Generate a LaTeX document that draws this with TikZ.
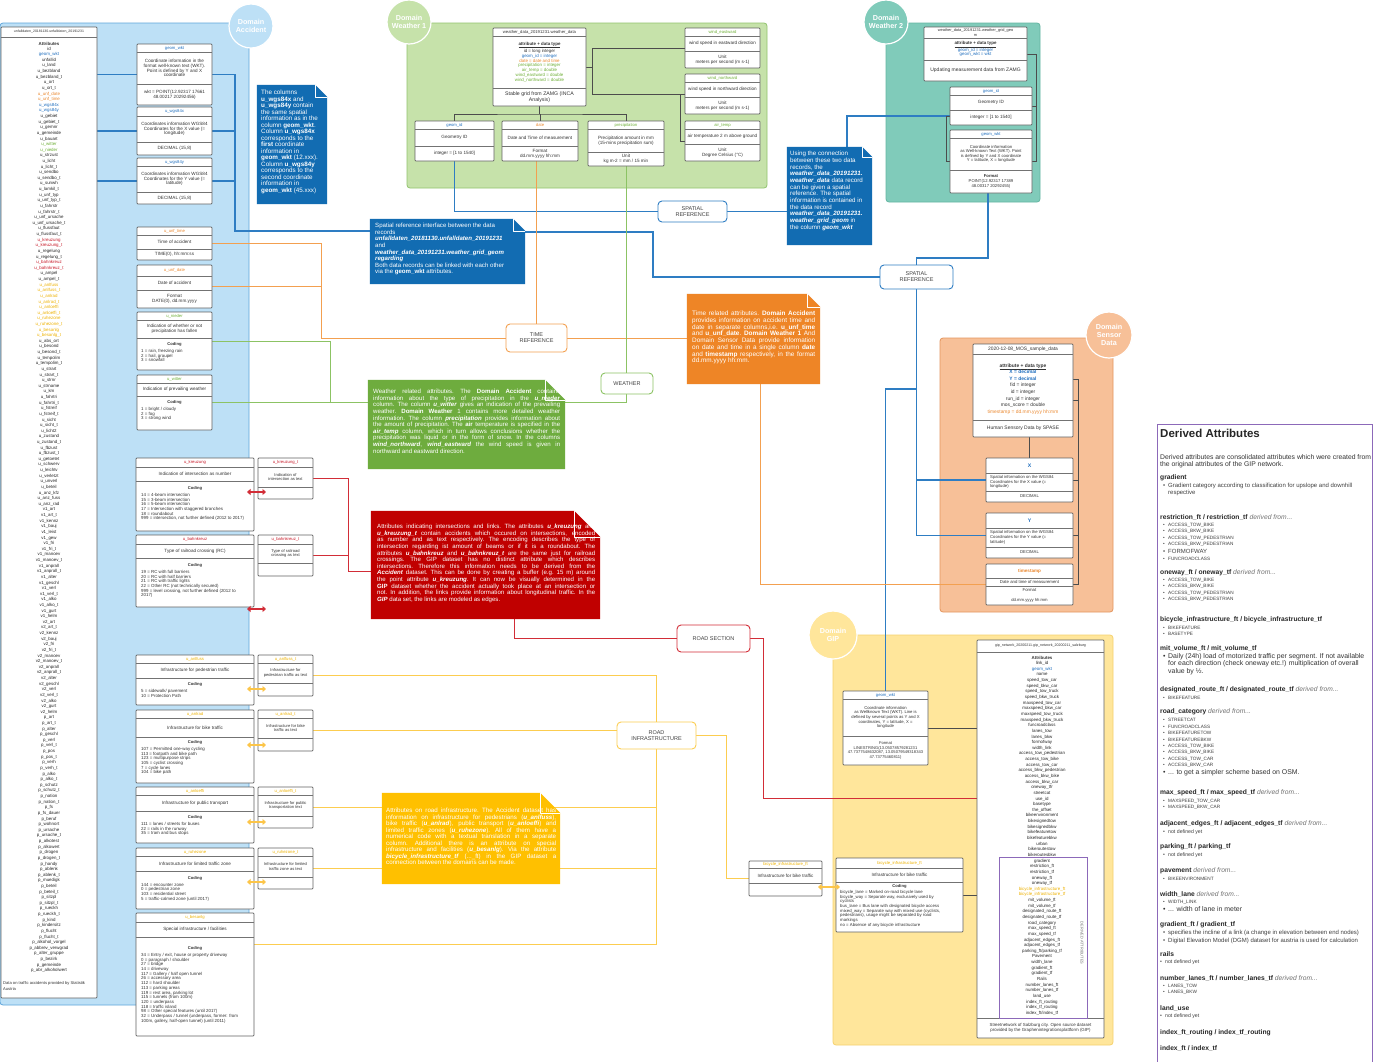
\documentclass[tikz,border=0pt]{standalone}
\usepackage{fontspec}
\setmainfont{Liberation Sans}
\usetikzlibrary{arrows.meta}
\pgfdeclarelayer{bg}
\pgfdeclarelayer{ln}
\pgfsetlayers{bg,ln,main}
\definecolor{accbg}{RGB}{189,224,246}
\definecolor{accbd}{RGB}{95,165,218}
\definecolor{w1bg}{RGB}{198,226,170}
\definecolor{w1bd}{RGB}{145,195,110}
\definecolor{w2bg}{RGB}{128,203,186}
\definecolor{w2bd}{RGB}{100,182,162}
\definecolor{sebg}{RGB}{247,192,152}
\definecolor{sebd}{RGB}{228,150,95}
\definecolor{gpbg}{RGB}{255,230,155}
\definecolor{gpbd}{RGB}{246,210,110}
\definecolor{tblue}{RGB}{31,110,190}
\definecolor{torange}{RGB}{235,135,45}
\definecolor{tgreen}{RGB}{110,175,55}
\definecolor{tred}{RGB}{200,25,40}
\definecolor{tyellow}{RGB}{238,178,0}
\definecolor{lblue}{RGB}{46,125,195}
\definecolor{lorange}{RGB}{243,160,80}
\definecolor{lgreen}{RGB}{140,195,100}
\definecolor{lred}{RGB}{210,45,55}
\definecolor{lyellow}{RGB}{252,205,80}
\definecolor{purp}{RGB}{140,105,185}
\definecolor{nblue}{RGB}{18,108,178}
\definecolor{norange}{RGB}{238,133,38}
\definecolor{ngreen}{RGB}{110,172,62}
\definecolor{nred}{RGB}{192,0,0}
\definecolor{nyellow}{RGB}{255,192,0}
\newcommand{\fs}[2]{\fontsize{#1}{#2}\selectfont}
\newcommand{\fj}[2]{\fontsize{#1}{#2}\selectfont\spaceskip=.27em plus 1em minus .13em\xspaceskip=.3em plus 1em minus .13em}
\newcount\ncnt
\newlength{\jw}
\newcommand{\J}[1]{\makebox[\jw][s]{#1}}
\newcommand{\Tx}[4][]{\global\advance\ncnt by 1\relax\edef\tname{t\the\ncnt}\node[txt,#1] (\tname) at (#2,#3) {#4};}
\newcommand{\Bx}[6][]{\node[tbox,#1,minimum width={#5-#3},minimum height={#6-#4}] (#2) at ({(#3+#5)/2},{(#4+#6)/2}) {};}
\newcommand{\Sp}[3]{\draw[sepl] (#1,#3) -- (#2,#3);}
\newcommand{\Nt}[7]{%
 \node[inner sep=0pt,minimum width={#5-#3},minimum height={#6-#4}] (#2) at ({(#3+#5)/2},{(#4+#6)/2}) {};
 \fill[#1] (#2.north west) -- ([xshift=-#7pt]#2.north east) -- ([yshift=-#7pt]#2.north east) -- (#2.south east) -- (#2.south west) -- cycle;
 \draw[white,line width=0.5pt,line join=round] ([xshift=-#7pt]#2.north east) -- ([xshift=-#7pt,yshift=-#7pt]#2.north east) -- ([yshift=-#7pt]#2.north east);}
\newcommand{\kB}{\color{tblue}}
\newcommand{\kO}{\color{torange}}
\newcommand{\kG}{\color{tgreen}}
\newcommand{\kR}{\color{tred}}
\newcommand{\kY}{\color{tyellow}}
\newcommand{\bul}{\makebox[5pt][l]{\textbullet}}
\newcommand{\dfr}{{\mdseries\itshape\color{black!55}derived from...}}
\begin{document}
\catcode`\_=12
\begin{tikzpicture}[x=1pt,y=-1pt,
  tbox/.style={draw=black!62,fill=white,line width=0.7pt,inner sep=0pt,rounded corners=0.8pt},
  region/.style={line width=0.8pt,rounded corners=3pt},
  txt/.style={inner sep=0pt,align=center,text=black!80,font=\fs{4.6}{4.8}},
  hd/.style={font=\fs{4.2}{4.6}},
  cod/.style={font=\bfseries\fs{4.1}{4.6}},
  cl/.style={anchor=north west,align=left,font=\fs{4.4}{4.7}},
  tsm/.style={font=\fs{4.1}{4.6}},
  sepl/.style={draw=black!55,line width=0.5pt},
  lst/.style={inner sep=0pt,text=black!85,font=\fs{4.4}{5},text height=3.2pt,text depth=1pt},
  dom/.style={circle,draw=white,line width=1.2pt,text=white,font=\bfseries\fs{7.2}{8},align=center,inner sep=0pt},
  lbl/.style={draw,fill=white,rounded corners=4pt,line width=0.9pt,align=center,inner sep=0pt,font=\fs{5.5}{6},text=black!75},
  ntx/.style={inner sep=0pt,text=white},
  lb/.style={draw=lblue,line width=1.1pt},
  lo/.style={draw=lorange,line width=0.8pt},
  lg/.style={draw=lgreen,line width=0.8pt},
  lr/.style={draw=lred,line width=0.9pt},
  ly/.style={draw=lyellow,line width=0.9pt},
  ld/.style={draw=black!70,line width=0.7pt},
  da/.style={line width=2.4pt,>={Triangle[length=3.5pt,width=6pt]},<->},
  dtitle/.style={anchor=west,align=left,font=\bfseries\fs{11.5}{12},text=black!85},
  dtx/.style={anchor=west,align=left,font=\fs{6.8}{8},text=black!80},
  dhd/.style={anchor=west,align=left,font=\bfseries\fs{6.7}{8},text=black!85},
  dit/.style={anchor=west,align=left,font=\fs{4.7}{6},text=black!75},
  dit2/.style={anchor=west,align=left,font=\fs{6.9}{8},text=black!80},
  dit3/.style={anchor=west,align=left,font=\fs{6.0}{7},text=black!75},
  dit4/.style={anchor=west,align=left,font=\fs{5.2}{6},text=black!75},
]
\useasboundingbox (0,0) rectangle (1384,1061);
\begin{pgfonlayer}{bg}
\fill[white] (0,0) rectangle (1384,1061);
\Bx[region,fill=accbg,draw=accbd]{racc}{0}{23}{249}{1005}
\Bx[region,fill=w1bg,draw=w1bd]{rw1}{407}{23}{767}{188}
\Bx[region,fill=w2bg,draw=w2bd]{rw2}{886}{23}{1040}{202}
\Bx[region,fill=sebg,draw=sebd]{rsen}{940}{338}{1113}{612}
\Bx[region,fill=gpbg,draw=gpbd]{rgip}{833}{635}{1113}{1045}
\end{pgfonlayer}

% domain circles
\node[dom,fill=accbg,minimum size=44pt] (cacc) at (251,26) {Domain\\Accident};
\node[dom,fill=w1bg,minimum size=44pt] (cw1) at (409,22) {Domain\\Weather 1};
\node[dom,fill=w2bg,minimum size=44pt] (cw2) at (886,22) {Domain\\Weather 2};
\node[dom,fill=sebg,minimum size=46pt] (csen) at (1109,335) {Domain\\Sensor\\Data};
\node[dom,fill=gpbg,minimum size=48pt] (cgip) at (833,635) {Domain\\GIP};

% ---------- Accident attribute list
\Bx{alist}{1}{27}{97}{998}\Sp{1}{97}{37}
\Tx[font=\fs{3.5}{4}]{49}{32}{unfalldaten_20181130.unfalldaten_20191231}
\Tx[font=\bfseries\fs{4.4}{5}]{49}{43.5}{Attributes}
\foreach \nm [count=\i] in {id,{\kB geom_wkt},unfallid,u_land,u_bezbland,u_bezbland_t,u_ort,u_ort_t,{\kO u_unf_date},{\kO u_unf_time},{\kB u_wgs84x},{\kB u_wgs84y},u_gebiet,u_gebiet_t,u_gemnr,u_gemeinde,u_bauart,{\kG u_witter},{\kG u_nieder},u_strzust,u_licht,u_licht_t,u_sendbo,u_sendbo_t,u_sunwh,u_lamkil_t,u_unf_typ,u_unf_typ_t,u_fahrstr,u_fahrstr_t,u_unf_ursache,u_unf_ursache_t,u_flussfaut,u_flussfaut_t,{\kR u_kreuzung},{\kR u_kreuzung_t},u_regelung,u_regelung_t,{\kR u_bahnkreuz},{\kR u_bahnkreuz_t},u_ampel,u_ampel_t,{\kY u_anlfuss},{\kY u_anlfuss_t},{\kY u_anlrad},{\kY u_anlrad_t},{\kY u_anloeffi},{\kY u_anloeffi_t},{\kY u_ruhezone},{\kY u_ruhezone_t},{\kY u_besanlg},{\kY u_besanlg_t},u_abs_ort,u_besond,u_besond_t,u_tempolim,u_tempolim_t,u_strart,u_strart_t,u_strnr,u_strname,u_km,u_fahrtri,u_fahrtri_t,u_fstreif,u_fstreif_t,u_sicht,u_sicht_t,u_licht2,u_zustand,u_zustand_t,u_fbzust,u_fbzust_t,u_getoetet,u_schwerv,u_leichtv,u_verletzt,u_unverl,u_beteil,u_anz_kfz,u_anz_fuss,u_anz_rad,v1_art,v1_art_t,v1_kennz,v1_bauj,v1_leist,v1_gew,v1_fri,v1_fri_t,v1_manoev,v1_manoev_t,v1_anprall,v1_anprall_t,v1_alter,v1_geschl,v1_verl,v1_verl_t,v1_alko,v1_alko_t,v1_gurt,v1_helm,v2_art,v2_art_t,v2_kennz,v2_bauj,v2_fri,v2_fri_t,v2_manoev,v2_manoev_t,v2_anprall,v2_anprall_t,v2_alter,v2_geschl,v2_verl,v2_verl_t,v2_alko,v2_gurt,v2_helm,p_art,p_art_t,p_alter,p_geschl,p_verl,p_verl_t,p_pos,p_pos_t,p_verh,p_verh_t,p_alko,p_alko_t,p_schutz,p_schutz_t,p_nation,p_nation_t,p_fs,p_fs_dauer,p_beruf,p_wohnort,p_ursache,p_ursache_t,p_alkotest,p_alkowert,p_drogen,p_drogen_t,p_handy,p_ablenk,p_ablenk_t,p_muedigk,p_beteil,p_beteil_t,p_sitzpl,p_sitzpl_t,p_rueckh,p_rueckh_t,p_kind,p_kindersitz,p_flucht,p_flucht_t,p_alkohol_vorgel,p_abbrev_verwgrad,p_alter_gruppe,p_bezirk,p_gemeinde,p_abr_alkoholwert}
  \node[lst] (al\i) at (49,{43.38+\i*5.62}) {\nm};
\Tx[anchor=north west,align=left,font=\fs{4.1}{6.5}]{3}{981}{Data on traffic accidents provided by Statistik\\Austria}

% ---------- Accident middle column
\Bx{gwkt}{137}{44}{212}{105}\Sp{137}{212}{52}\Sp{137}{212}{84}
\Tx[hd,text=tblue]{174.5}{48}{geom_wkt}
\Tx{174.5}{68}{Coordinate information in the\\format well-known text (WKT).\\Point is defined by Y and X\\coordinate}
\Tx{174.5}{94.5}{wkt = POINT(12.92317 17661\\48.00217 20292456)}

\Bx{wgsx}{137}{107}{212}{155}\Sp{137}{212}{116}\Sp{137}{212}{142}
\Tx[hd,text=tblue]{174.5}{111.5}{u_wgs84x}
\Tx{174.5}{129}{Coordinates information WGS84\\Coordinates for the X value (=\\longitude)}
\Tx{174.5}{148.5}{DECIMAL (15,8)}

\Bx{wgsy}{137}{158}{212}{204}\Sp{137}{212}{166}\Sp{137}{212}{192}
\Tx[hd,text=tblue]{174.5}{162}{u_wgs84y}
\Tx{174.5}{179}{Coordinates information WGS84\\Coordinates for the Y value (=\\latitude)}
\Tx{174.5}{198}{DECIMAL (15,8)}

\Bx{utime}{137}{227}{212}{260}\Sp{137}{212}{235}\Sp{137}{212}{249}
\Tx[hd,text=torange]{174.5}{231}{u_unf_time}
\Tx{174.5}{242}{Time of accident}
\Tx{174.5}{254.5}{TIME(0), hh:mm:ss}

\Bx{udate}{137}{265}{212}{308}\Sp{137}{212}{276}\Sp{137}{212}{290}
\Tx[hd,text=torange]{174.5}{270.5}{u_unf_date}
\Tx{174.5}{283}{Date of accident}
\Tx{174.5}{299}{Format\\DATE(0), dd.mm.yyyy}

\Bx{unied}{137}{312}{212}{370}\Sp{137}{212}{320}\Sp{137}{212}{338}
\Tx[hd,text=tgreen]{174.5}{316}{u_nieder}
\Tx{174.5}{329}{Indication of whether or not\\precipitation has fallen}
\Tx[cod]{174.5}{344}{Coding}
\Tx[cl]{141}{349}{1 = rain, freezing rain\\2 = hail, graupel\\3 = snowfall}

\Bx{uwitt}{137}{375}{212}{430}\Sp{137}{212}{383}\Sp{137}{212}{396}
\Tx[hd,text=tgreen]{174.5}{379}{u_witter}
\Tx{174.5}{389.5}{Indication of prevailing weather}
\Tx[cod]{174.5}{402}{Coding}
\Tx[cl]{141}{407}{1 = bright / cloudy\\2 = fog\\3 = strong wind}

% ---------- Accident lower boxes
\Bx{kreuz}{136}{458}{254}{531}\Sp{136}{254}{467}\Sp{136}{254}{481}
\Tx[hd,text=tred]{195}{462.5}{u_kreuzung}
\Tx{195}{474}{Indication of intersection as number}
\Tx[cod]{195}{488}{Coding}
\Tx[cl]{141}{493}{14 = 4-beam intersection\\15 = 3-beam intersection\\16 = 5-beam intersection\\17 = Intersection with staggered branches\\18 = roundabout\\999 = intersection, not further defined (2012 to 2017)}
\Bx{kreuzt}{258}{458}{313}{499}\Sp{258}{313}{467}\Sp{258}{313}{487}
\Tx[hd,text=tred]{285.5}{462.5}{u_kreuzung_t}
\Tx[tsm]{285.5}{477}{Indication of\\intersection as text}

\Bx{bahn}{136}{535}{254}{607}\Sp{136}{254}{544}\Sp{136}{254}{558}
\Tx[hd,text=tred]{195}{539.5}{u_bahnkreuz}
\Tx{195}{551}{Type of railroad crossing (RC)}
\Tx[cod]{195}{565}{Coding}
\Tx[cl]{141}{570}{19 = RC with full barriers\\20 = RC with half barriers\\21 = RC with traffic lights\\22 = Other RC (not technically secured)\\999 = level crossing, not further defined (2012 to\\2017)}
\Bx{bahnt}{258}{535}{313}{576}\Sp{258}{313}{544}\Sp{258}{313}{563}
\Tx[hd,text=tred]{285.5}{539.5}{u_bahnkreuz_t}
\Tx[tsm]{285.5}{553.5}{Type of railroad\\crossing as text}

\Bx{fuss}{136}{655}{254}{705}\Sp{136}{254}{663}\Sp{136}{254}{678}
\Tx[hd,text=tyellow]{195}{659}{u_anlfuss}
\Tx{195}{670.5}{Infrastructure for pedestrian traffic}
\Tx[cod]{195}{684}{Coding}
\Tx[cl]{141}{689}{5 = sidewalk/ pavement\\10 = Protection Path}
\Bx{fusst}{258}{655}{313}{696}\Sp{258}{313}{663}\Sp{258}{313}{683}
\Tx[hd,text=tyellow]{285.5}{659}{u_anlfuss_t}
\Tx[tsm]{285.5}{673}{Infrastructure for\\pedestrian traffic as text}

\Bx{rad}{136}{710}{254}{783}\Sp{136}{254}{718}\Sp{136}{254}{737}
\Tx[hd,text=tyellow]{195}{714}{u_anlrad}
\Tx{195}{727.5}{Infrastructure for bike traffic}
\Tx[cod]{195}{742}{Coding}
\Tx[cl]{141}{747}{107 = Permitted one-way cycling\\113 = footpath and bike path\\123 = multipurpose strips\\105 = cyclist crossing\\7 = cycle lanes\\104 = bike path}
\Bx{radt}{258}{710}{313}{751}\Sp{258}{313}{718}\Sp{258}{313}{738}
\Tx[hd,text=tyellow]{285.5}{714}{u_anlrad_t}
\Tx[tsm]{285.5}{728}{Infrastructure for bike\\traffic as text}

\Bx{oeffi}{136}{787}{254}{843}\Sp{136}{254}{795}\Sp{136}{254}{811}
\Tx[hd,text=tyellow]{195}{791}{u_anloeffi}
\Tx{195}{803}{Infrastructure for public transport}
\Tx[cod]{195}{817}{Coding}
\Tx[cl]{141}{822}{111 = lanes / streets for buses\\22 = rails in the runway\\35 = tram and bus stops}
\Bx{oeffit}{258}{787}{313}{828}\Sp{258}{313}{795}\Sp{258}{313}{816}
\Tx[hd,text=tyellow]{285.5}{791}{u_anloeffi_t}
\Tx[tsm]{285.5}{805.5}{Infrastructure for public\\transportation text}

\Bx{ruhe}{136}{848}{254}{909}\Sp{136}{254}{856}\Sp{136}{254}{871}
\Tx[hd,text=tyellow]{195}{852}{u_ruhezone}
\Tx{195}{863.5}{Infrastructure for limited traffic zone}
\Tx[cod]{195}{878}{Coding}
\Tx[cl]{141}{883}{144 = encounter zone\\0 = pedestrian zone\\103 = residential street\\5 = traffic-calmed zone (until 2017)}
\Bx{ruhet}{258}{848}{313}{889}\Sp{258}{313}{856}\Sp{258}{313}{877}
\Tx[hd,text=tyellow]{285.5}{852}{u_ruhezone_t}
\Tx[tsm]{285.5}{866.5}{Infrastructure for limited\\traffic zone as text}

\Bx{besan}{136}{913}{254}{1036}\Sp{136}{254}{922}\Sp{136}{254}{937}
\Tx[hd,text=tyellow]{195}{917.5}{u_besanlg}
\Tx{195}{929.5}{Special infrastructure / facilities}
\Tx[cod]{195}{948}{Coding}
\Tx[cl]{141}{953}{34 = Entry / exit, house or property driveway\\0 = paragraph / shoulder\\27 = bridge\\14 = driveway\\117 = Gallery / half open tunnel\\26 = accessory area\\112 = hard shoulder\\113 = parking areas\\119 = rest area, parking lot\\115 = tunnels (from 100m)\\120 = underpass\\118 = traffic island\\98 = Other special features (until 2017)\\32 = Underpass / tunnel (underpass, former: from\\100m, gallery, half-open tunnel) (until 2011)}

% ---------- Weather 1
\Bx{wmain}{493}{28}{586}{106}\Sp{493}{586}{36}\Sp{493}{586}{88}
\Tx[hd]{539.5}{32}{weather_data_20191231.weather_data}
\Tx[font=\fs{4.4}{4.1}]{539.5}{62}{\underline{\textbf{attribute + data type}}\\id = long integer\\{\kB geom_id = integer}\\{\kO date = date and time}\\{\kG precipitation = integer}\\{\kG air_temp = double}\\{\kG wind_eastward = double}\\{\kG wind_northward = double}}
\Tx[font=\fs{5.2}{5.8}]{539.5}{97}{Stable grid from ZAMG (INCA\\Analysis)}
\Bx{wgid}{415}{121}{494}{161}\Sp{415}{494}{129}\Sp{415}{494}{146}
\Tx[hd,text=tblue]{454.5}{125}{geom_id}
\Tx{454.5}{137.5}{Geometry ID}
\Tx{454.5}{153.5}{integer = [1 to 1540]}
\Bx{wdate}{502}{121}{578}{161}\Sp{502}{578}{129}\Sp{502}{578}{146}
\Tx[hd,text=torange]{540}{125}{date}
\Tx{540}{137.5}{Date and Time of measurement}
\Tx{540}{153.5}{Format\\dd.mm.yyyy hh:mm}
\Bx{wprec}{588}{121}{664}{166}\Sp{588}{664}{129}\Sp{588}{664}{152}
\Tx[hd,text=tgreen]{626}{125}{precipitation}
\Tx{626}{140.5}{Precipitation amount in mm\\(15-mins precipitation sum)}
\Tx{626}{159}{Unit\\kg m-2 = mm / 15 min}
\Bx{weast}{685}{28}{760}{68}\Sp{685}{760}{36}\Sp{685}{760}{51}
\Tx[hd,text=tgreen]{722.5}{32}{wind_eastward}
\Tx{722.5}{43.5}{wind speed in eastward direction}
\Tx{722.5}{59.5}{Unit\\meters per second (m s-1)}
\Bx{wnorth}{685}{74}{760}{114}\Sp{685}{760}{82}\Sp{685}{760}{97}
\Tx[hd,text=tgreen]{722.5}{78}{wind_northward}
\Tx{722.5}{89.5}{wind speed in northward direction}
\Tx{722.5}{105.5}{Unit\\meters per second (m s-1)}
\Bx{wair}{685}{121}{760}{161}\Sp{685}{760}{129}\Sp{685}{760}{144}
\Tx[hd,text=tgreen]{722.5}{125}{air_temp}
\Tx{722.5}{136.5}{air temperature 2 m above ground}
\Tx{722.5}{152.5}{Unit\\Degree Celsius (°C)}

% ---------- Weather 2
\Bx{w2main}{924}{27}{1027}{81}\Sp{924}{1027}{38}\Sp{924}{1027}{60}
\Tx[font=\fs{3.9}{4.2}]{975.5}{32.5}{weather_data_20191231.weather_grid_geo\\m}
\Tx[font=\fs{4.4}{4.4}]{975.5}{49}{\underline{\textbf{attribute + data type}}\\{\kB geom_id = integer}\\{\kB geom_wkt = wkt}}
\Tx[font=\fs{5}{5}]{975.5}{70.5}{Updating measurement data from ZAMG}
\Bx{w2gid}{950}{87}{1032}{125}\Sp{950}{1032}{95}\Sp{950}{1032}{110}
\Tx[hd,text=tblue]{991}{91}{geom_id}
\Tx{991}{102.5}{Geometry ID}
\Tx{991}{117.5}{integer = [1 to 1540]}
\Bx{w2wkt}{950}{130}{1032}{193}\Sp{950}{1032}{138}\Sp{950}{1032}{170}
\Tx[hd,text=tblue]{991}{134}{geom_wkt}
\Tx[font=\fs{4.2}{4.6}]{991}{154}{Coordinate information\\as Well-known Text (WKT). Point\\is defined by Y and X coordinate\\Y = latitude, X = longitude}
\Tx[font=\fs{4.2}{4.6}]{991}{181.5}{\textbf{Format}\\POINT(12.92317 17389\\48.00317 20292455)}

% ---------- Sensor data
\Bx{smain}{973}{344}{1073}{437}\Sp{973}{1073}{354}\Sp{973}{1073}{420}
\Tx[font=\fs{4.9}{5}]{1023}{349}{2020-12-08_MOS_sample_data}
\Tx[font=\fs{4.9}{6.6}]{1023}{389}{\underline{\textbf{attribute + data type}}\\{\kB\textbf{X = decimal}}\\{\kB\textbf{Y = decimal}}\\fid = integer\\id = integer\\run_id = integer\\mos_score = double\\{\kO timestamp = dd.mm.yyyy hh:mm}}
\Tx[font=\fs{5}{5}]{1023}{428.5}{Human Sensory Data by SPASE}
\Bx{sx}{986}{458}{1073}{502}\Sp{986}{1073}{473}\Sp{986}{1073}{491}
\Tx[font=\bfseries\fs{5.2}{5},text=tblue]{1029.5}{465.5}{X}
\Tx[anchor=west,align=left,font=\fs{4.2}{4.7}]{990}{482}{Spatial information on the WGS84\\Coordinates for the X value (=\\longitude)}
\Tx[font=\fs{4.2}{4.5}]{1029.5}{496.5}{DECIMAL}
\Bx{sy}{986}{513}{1073}{558}\Sp{986}{1073}{528}\Sp{986}{1073}{547}
\Tx[font=\bfseries\fs{5.2}{5},text=tblue]{1029.5}{520.5}{Y}
\Tx[anchor=west,align=left,font=\fs{4.2}{4.7}]{990}{537.5}{Spatial information on the WGS84\\Coordinates for the Y value (=\\latitude)}
\Tx[font=\fs{4.2}{4.5}]{1029.5}{552.5}{DECIMAL}
\Bx{sts}{986}{564}{1073}{605}\Sp{986}{1073}{578}\Sp{986}{1073}{586}
\Tx[font=\bfseries\fs{4.6}{5},text=torange]{1029.5}{571}{timestamp}
\Tx[font=\fs{4.3}{4.5}]{1029.5}{582}{Date and time of measurement}
\Tx[font=\fs{4.3}{4.5}]{1029.5}{590.5}{Format}
\Tx[font=\fs{4.2}{4.5}]{1029.5}{600.5}{dd.mm.yyyy hh:mm}

% ---------- GIP
\Bx{giplist}{977}{640}{1104}{1038}\Sp{977}{1104}{652}\Sp{977}{1104}{1018}
\Bx[fill=none,draw=purp,line width=0.8pt,rounded corners=0pt]{gipder}{999}{857}{1087}{1018}
\Tx[font=\fs{3.6}{4}]{1040.5}{646}{gip_network_20200211.gip_network_20200211_salzburg}
\Tx[font=\bfseries\fs{4.4}{5}]{1042}{658}{Attributes}
\foreach \nm [count=\i] in {link_id,{\kB geom_wkt},name,speed_tow_car,speed_bkw_car,speed_tow_truck,speed_bkw_truck,maxspeed_tow_car,maxspeed_bkw_car,maxspeed_tow_truck,maxspeed_bkw_truck,funcroadclass,lanes_tow,lanes_bkw,formofway,width_link,access_tow_pedestrian,access_tow_bike,access_tow_car,access_bkw_pedestrian,access_bkw_bike,access_bkw_car,oneway_tfr,streetcat,use_id,basetype,the_offset,bikeenvironment,bikesignedtow,bikesignedbkw,bikefeaturetow,bikefeaturebkw,urban,bikeroutestow,bikeroutesbkw,gradient,restriction_ft,restriction_tf,oneway_ft,oneway_tf,{\kY bicycle_infrastructure_ft},{\kY bicycle_infrastructure_tf},mit_volume_ft,mit_volume_tf,designated_route_ft,designated_route_tf,road_category,max_speed_ft,max_speed_tf,adjacent_edges_ft,adjacent_edges_tf,parking_ft/parking_tf,Pavement,width_lane,gradient_ft,gradient_tf,Rails,number_lanes_ft,number_lanes_tf,land_use,index_ft_routing,index_tf_routing,index_ft/index_tf}
  \node[lst] (gl\i) at (1042,{657.96+\i*5.64}) {\nm};
\Tx[rotate=-90,font=\fs{3.9}{4},text=black!55]{1082}{943}{DERIVED ATTRIBUTES}
\Tx[font=\fs{4.4}{5.3}]{1040.5}{1028}{Streetnetwork of Salzburg city. Open source dataset\\provided by the Graphenintegrationsplattform (GIP)}
\Bx{gipwkt}{843}{691}{928}{765}\Sp{843}{928}{699}\Sp{843}{928}{736}
\Tx[hd,text=tblue]{885.5}{695}{geom_wkt}
\Tx[font=\fs{4.2}{4.6}]{885.5}{717.5}{Coordinate information\\as Wellknown Text (WKT). Line is\\defined by several points as Y and X\\coordinates, Y = latitude, X =\\longitude}
\Tx[font=\fs{4.1}{4.5}]{885.5}{750.5}{Format\\LINESTRING(13.05078579281231\\47.7377548632087, 13.05079549318343\\47.73775460811)}
\Bx{bike2}{836}{858}{963}{932}\Sp{836}{963}{868}\Sp{836}{963}{882}
\Tx[hd,text=tyellow]{899.5}{863}{bicycle_infrastructure_ft}
\Tx{899.5}{875}{Infrastructure for bike traffic}
\Tx[cod]{899.5}{886}{Coding}
\Tx[cl,font=\fs{4.3}{4.7}]{840}{890}{bicycle_lane = Marked on-road bicycle lane\\bicycle_way = Separate way, exclusively used by\\cyclists\\bus_lane = Bus lane with designated bicycle access\\mixed_way = Separate way with mixed use (cyclists,\\pedestrians), usage might be separated by road\\markings\\no = Absence of any bicycle infrastructure}
\Bx{bike1}{749}{861}{822}{896}\Sp{749}{822}{868}\Sp{749}{822}{883}
\Tx[hd,text=tyellow]{785.5}{864.5}{bicycle_infrastructure_ft}
\Tx{785.5}{875.5}{Infrastructure for bike traffic}

% ---------- notes
\Nt{nblue}{cnote}{257}{85}{327}{204}{12}
\Tx[ntx,align=left,anchor=north west,font=\fs{6.3}{6.5}]{261}{90}{The columns\\\textbf{u_wgs84x} and\\\textbf{u_wgs84y} contain\\the same spatial\\information as in the\\column \textbf{geom_wkt}.\\Column \textbf{u_wgs84x}\\corresponds to the\\\textbf{first} coordinate\\information in\\\textbf{geom_wkt} (12.xxx).\\Column \textbf{u_wgs84y}\\corresponds to the\\second coordinate\\information in\\\textbf{geom_wkt} (45.xxx)}
\Nt{nblue}{snote}{370}{219}{525}{284}{12}
\Tx[ntx,align=left,anchor=north west,font=\fs{6.1}{6.6}]{375}{223}{Spatial reference interface between the data\\records\\\textbf{\textit{unfalldaten_20181130.unfalldaten_20191231}}\\and\\\textbf{\textit{weather_data_20191231.weather_grid_geom}}\\\textbf{\textit{regarding}}\\Both data records can be linked with each other\\via the \textbf{geom_wkt} attributes.}
\Nt{nblue}{unote}{787}{147}{872}{245}{10}
\Tx[ntx,align=left,anchor=north west,font=\fs{6.2}{6.7}]{790}{151}{Using the connection\\between these two data\\records, the\\\textbf{\textit{weather_data_20191231.}}\\\textbf{\textit{weather_data}} data record\\can be given a spatial\\reference. The spatial\\information is contained in\\the data record\\\textbf{\textit{weather_data_20191231.}}\\\textbf{\textit{weather_grid_geom}} in\\the column \textbf{\textit{geom_wkt}}}
\Nt{norange}{onote}{687}{294}{820}{384}{13}
\setlength{\jw}{123pt}
\Tx[ntx,align=left,anchor=north west,font=\fj{6.4}{6.7}]{692}{311}{\J{Time related attributes. \textbf{Domain Accident}}\\\J{provides information on accident time and}\\\J{date in separate columns,i.e. \textbf{u_unf_time}}\\\J{and \textbf{u_unf_date}. \textbf{Domain Weather 1} And}\\\J{Domain Sensor Data provide information}\\\J{on date and time in a single column \textbf{date}}\\\J{and \textbf{timestamp} respectively, in the format}\\dd.mm.yyyy hh:mm.}
\Nt{ngreen}{gnote}{368}{380}{565}{469}{20}
\setlength{\jw}{187pt}
\Tx[ntx,align=left,anchor=north west,font=\fj{6.1}{6.6}]{373}{389}{\J{Weather related attributes. The \textbf{Domain Accident} contains}\\\J{information about the type of precipitation in the \textbf{\textit{u_nieder}}}\\\J{column. The column \textbf{\textit{u_witter}} gives an indication of the prevailing}\\\J{weather. \textbf{Domain Weather} 1 contains more detailed weather}\\\J{information. The column \textbf{\textit{precipitation}} provides information about}\\\J{the amount of precipitation. The \textbf{air} temperature is specified in the}\\\J{\textbf{\textit{air_temp}} column, which in turn allows conclusions whether the}\\\J{precipitation was liquid or in the form of snow. In the columns}\\\J{\textbf{\textit{wind_northward}}, \textbf{\textit{wind_eastward}} the wind speed is given in}\\northward and eastward direction.}
\Nt{nred}{rnote}{371}{511}{600}{619}{26}
\setlength{\jw}{218pt}
\Tx[ntx,align=left,anchor=north west,font=\fj{6.1}{6.6}]{377}{524}{\J{Attributes indicating intersections and links. The attributes \textbf{\textit{u_kreuzung}} and}\\\J{\textbf{\textit{u_kreuzung_t}} contain accidents which occured on intersections, encoded}\\\J{as number and as text respectively. The encoding describes the type of}\\\J{intersection regarding ist amount of beams or if it is a roundabout. The}\\\J{attributes \textbf{\textit{u_bahnkreuz}} and \textbf{\textit{u_bahnkreuz_t}} are the same just for railroad}\\\J{crossings. The GIP dataset has no distinct attribute which describes}\\\J{intersections. Therefore this information needs to be derived from the}\\\J{\textbf{\textit{Accident}} dataset. This can be done by creating a buffer (e.g. 15 m) around}\\\J{the point attribute \textbf{\textit{u_kreuzung}}. It can now be visually determined in the}\\\J{\textbf{GIP} dataset whether the accident actually took place at an intersection or}\\\J{not. In addition, the links provide information about longitudinal traffic. In the}\\\textbf{\textit{GIP}} data set, the links are modeled as edges.}
\Nt{nyellow}{ynote}{382}{793}{560}{884}{20}
\setlength{\jw}{170pt}
\Tx[ntx,align=left,anchor=north west,font=\fj{6.2}{6.5}]{386}{808}{\J{Attributes on road infrastructure. The Accident dataset has}\\\J{information on infrastructure for pedestrians (\textbf{\textit{u_anlfuss}}),}\\\J{bike traffic (\textbf{\textit{u_anlrad}}), public transport (\textbf{\textit{u_anloeffi}}) and}\\\J{limited traffic zones (\textbf{\textit{u_ruhezone}}). All of them have a}\\\J{numerical code with a textual translation in a separate}\\\J{column. Additional there is an attribute on special}\\\J{infrastructure and facilities (\textbf{\textit{u_besanlg}}). Via the attribute}\\\J{\textbf{\textit{bicycle_infrastructure_tf}} (..._ft) in the GIP dataset a}\\connection between the domains can be made.}

% ---------- relation labels
\node[lbl,draw=lblue,minimum width=69pt,minimum height=21pt] (sref1) at (692.5,211.5) {SPATIAL\\REFERENCE};
\node[lbl,draw=lblue,minimum width=73pt,minimum height=24pt] (sref2) at (916.5,277) {SPATIAL\\REFERENCE};
\node[lbl,draw=lorange,minimum width=61pt,minimum height=28pt] (tref) at (536.5,338) {TIME\\REFERENCE};
\node[lbl,draw=lgreen,minimum width=52pt,minimum height=21pt] (wlab) at (627,383.5) {WEATHER};
\node[lbl,draw=lred,minimum width=73pt,minimum height=27pt] (rsec) at (713.5,638.5) {ROAD SECTION};
\node[lbl,draw=lyellow,minimum width=79pt,minimum height=27pt] (rinf) at (656.5,735.5) {ROAD\\INFRASTRUCTURE};

% ---------- Derived attributes panel
\Bx[draw=purp,line width=1pt,rounded corners=0pt]{derbox}{1157}{424}{1372}{1064}
\Tx[dtitle]{1160}{433}{Derived Attributes}
\Tx[dtx]{1160}{457}{Derived attributes are consolidated attributes which were created from}
\Tx[dtx]{1160}{465}{the original attributes of the GIP network.}
\Tx[dhd]{1160}{478}{gradient}
\Tx[dit3]{1163}{486}{\bul Gradient category according to classification for upslope and downhill}
\Tx[dit3]{1168}{493}{respective}
\Tx[dhd]{1160}{517}{restriction_ft / restriction_tf \dfr}
\Tx[dit]{1163}{525}{\bul ACCESS_TOW_BIKE}
\Tx[dit]{1163}{531.5}{\bul ACCESS_BKW_BIKE}
\Tx[dit]{1163}{538}{\bul ACCESS_TOW_PEDESTRIAN}
\Tx[dit]{1163}{544.5}{\bul ACCESS_BKW_PEDESTRIAN}
\Tx[dit3]{1163}{551.5}{\bul FORMOFWAY}
\Tx[dit]{1163}{558.5}{\bul FUNCROADCLASS}
\Tx[dhd]{1160}{573}{oneway_ft / oneway_tf \dfr}
\Tx[dit]{1163}{580}{\bul ACCESS_TOW_BIKE}
\Tx[dit]{1163}{586.5}{\bul ACCESS_BKW_BIKE}
\Tx[dit]{1163}{593}{\bul ACCESS_TOW_PEDESTRIAN}
\Tx[dit]{1163}{599.5}{\bul ACCESS_BKW_PEDESTRIAN}
\Tx[dhd]{1160}{620}{bicycle_infrastructure_ft / bicycle_infrastructure_tf}
\Tx[dit]{1163}{627.5}{\bul BIKEFEATURE}
\Tx[dit]{1163}{634}{\bul BASETYPE}
\Tx[dhd]{1160}{648}{mit_volume_ft / mit_volume_tf}
\Tx[dit2]{1163}{656.5}{\bul Daily (24h) load of motorized traffic per segment. If not available}
\Tx[dit2]{1168}{664}{for each direction (check oneway etc.!) multiplication of overall}
\Tx[dit2]{1168}{671.5}{value by ½.}
\Tx[dhd]{1160}{690}{designated_route_ft / designated_route_tf \dfr}
\Tx[dit]{1163}{698}{\bul BIKEFEATURE}
\Tx[dhd]{1160}{712}{road_category \dfr}
\Tx[dit]{1163}{720}{\bul STREETCAT}
\Tx[dit]{1163}{726.5}{\bul FUNCROADCLASS}
\Tx[dit]{1163}{733}{\bul BIKEFEATURETOW}
\Tx[dit]{1163}{739.5}{\bul BIKEFEATUREBKW}
\Tx[dit]{1163}{746}{\bul ACCESS_TOW_BIKE}
\Tx[dit]{1163}{752.5}{\bul ACCESS_BKW_BIKE}
\Tx[dit]{1163}{759}{\bul ACCESS_TOW_CAR}
\Tx[dit]{1163}{765.5}{\bul ACCESS_BKW_CAR}
\Tx[dit2]{1163}{773}{\bul ... to get a simpler scheme based on OSM.}
\Tx[dhd]{1160}{793}{max_speed_ft / max_speed_tf \dfr}
\Tx[dit]{1163}{801}{\bul MAXSPEED_TOW_CAR}
\Tx[dit]{1163}{807.5}{\bul MAXSPEED_BKW_CAR}
\Tx[dhd]{1160}{824}{adjacent_edges_ft / adjacent_edges_tf \dfr}
\Tx[dit4]{1163}{832}{\bul not defined yet}
\Tx[dhd]{1160}{847}{parking_ft / parking_tf}
\Tx[dit4]{1163}{855}{\bul not defined yet}
\Tx[dhd]{1160}{871}{pavement \dfr}
\Tx[dit]{1163}{879}{\bul BIKEENVIRONMENT}
\Tx[dhd]{1160}{894}{width_lane \dfr}
\Tx[dit]{1163}{902}{\bul WIDTH_LINK}
\Tx[dit2]{1163}{909.5}{\bul ... width of lane in meter}
\Tx[dhd]{1160}{925}{gradient_ft / gradient_tf}
\Tx[dit3]{1163}{933}{\bul specifies the incline of a link (a change in elevation between end nodes)}
\Tx[dit3]{1163}{940.5}{\bul Digital Elevation Model (DGM) dataset for austria is used for calculation}
\Tx[dhd]{1160}{954}{rails}
\Tx[dit4]{1160}{962}{\bul not defined yet}
\Tx[dhd]{1160}{978}{number_lanes_ft / number_lanes_tf \dfr}
\Tx[dit]{1163}{986}{\bul LANES_TOW}
\Tx[dit]{1163}{992.5}{\bul LANES_BKW}
\Tx[dhd]{1160}{1008}{land_use}
\Tx[dit4]{1160}{1016}{\bul not defined yet}
\Tx[dhd]{1160}{1033}{index_ft_routing / index_tf_routing}
\Tx[dhd]{1160}{1048}{index_ft / index_tf}

% ---------- double arrows
\draw[da,draw=lred,fill=lred] (247,492) -- (266,492);
\draw[da,draw=lred,fill=lred] (247,609) -- (266,609);
\draw[da,draw=lyellow!90!orange,fill=lyellow!90!orange] (247,689) -- (266,689);
\draw[da,draw=lyellow!90!orange,fill=lyellow!90!orange] (247,745) -- (266,745);
\draw[da,draw=lyellow!90!orange,fill=lyellow!90!orange] (247,822) -- (266,822);
\draw[da,draw=lyellow!90!orange,fill=lyellow!90!orange] (247,882) -- (266,882);
\draw[da,draw=lyellow!90!orange,fill=lyellow!90!orange] (818,887) -- (840,887);

% ---------- connectors
\begin{pgfonlayer}{ln}
\draw[lb] (alist.east |- gwkt.west) -- (gwkt.west);
\draw[lb] (alist.east |- wgsx.west) -- (wgsx.west);
\draw[lb] (alist.east |- wgsy.west) -- (wgsy.west);
\draw[lb] (gwkt.east) -| (235,231) -- (snote.west |- 0,231);
\draw[lb] (wgsx.east) -- (235,131);
\draw[lb] (wgsy.east) -- (235,181);
\draw[lb] (snote.east |- 0,232) -| (653,277) -- (sref2.west);
\draw[lb] (wgid.south) |- (sref1.west);
\draw[lb] (sref1.east) -- (unote.west |- sref1.east);
\draw[lb] (unote.north -| 847,0) |- (w2gid.west |- 0,116);
\draw[lb] (w2wkt.south -| 988,0) |- (916.5,258) -- (sref2.north);
\draw[lb] (sref2.south) |- (sy.west);
\draw[lb] (916.5,480) -- (sx.west);
\draw[lb] (916.5,389) -| (gipwkt.north);
\draw[lo] (utime.east) -| (321,338) -- (tref.west);
\draw[lo] (udate.east) -- (321,286.5);
\draw[lo] (tref.north) -- (tref.north |- wdate.south);
\draw[lo] (tref.east) -- (onote.west |- tref.east);
\draw[lo] (onote.south -| 760,0) |- (sts.west);
\draw[lg] (unied.east) -| (330,402.5);
\draw[lg] (uwitt.east) -- (gnote.west |- uwitt.east);
\draw[lg] (wprec.south) |- (gnote.east |- uwitt.east);
\draw[lr] (kreuzt.east) -| (348,571) -- (rnote.west |- 0,571);
\draw[lr] (bahnt.east) -- (348,555.5);
\draw[lr] (rnote.south -| 514,0) |- (rsec.west);
\draw[lr] (rsec.east) -| (763,798) -- (giplist.west |- 0,798);
\draw[ly] (fusst.east) -| (rinf.north);
\draw[ly] (radt.east) -- (rinf.west |- radt.east);
\draw[ly] (rinf.south) -- (rinf.south |- 0,944) -- (besan.east |- 0,944);
\draw[ly] (oeffit.east) -- (rinf.south |- oeffit.east);
\draw[ly] (ruhet.east) -- (rinf.south |- ruhet.east);
\draw[ly] (rinf.east) -| (726,878.5) -- (bike1.west);
\draw[ld] (wmain.east) -- (592,67);
\draw[ld] (weast.west) -| (592,94) -- (wnorth.west);
\draw[ld] (680,94) |- (wair.west);
\draw[ld] (wmain.south) -- (539.5,114);
\draw[ld] (wgid.north) |- (539.5,114) -| (wprec.north);
\draw[ld] (wdate.north) -- (wdate.north |- 0,114);
\draw[ld] (w2main.east) -| (1036,161.5) -- (w2wkt.east);
\draw[ld] (w2gid.east) -- (1036,106);
\draw[ld] (w2gid.west |- 0,116) -| (946,161.5) -- (w2wkt.west);
\draw[ld] (sx.north) -- (sx.north |- smain.south);
\draw[ld] (smain.east |- 0,379) -| (1078,584.5) -- (sts.east);
\draw[ld] (smain.east |- 0,400) -- (1078,400);
\draw[ld] (sx.east) -- (1078,480);
\draw[ld] (sy.east) -- (1078,535.5);
\draw[ld] (gipwkt.east) -- (giplist.west |- gipwkt.east);
\draw[ld] (bike2.east) -- (giplist.west |- bike2.east);
\end{pgfonlayer}
\end{tikzpicture}
\end{document}
